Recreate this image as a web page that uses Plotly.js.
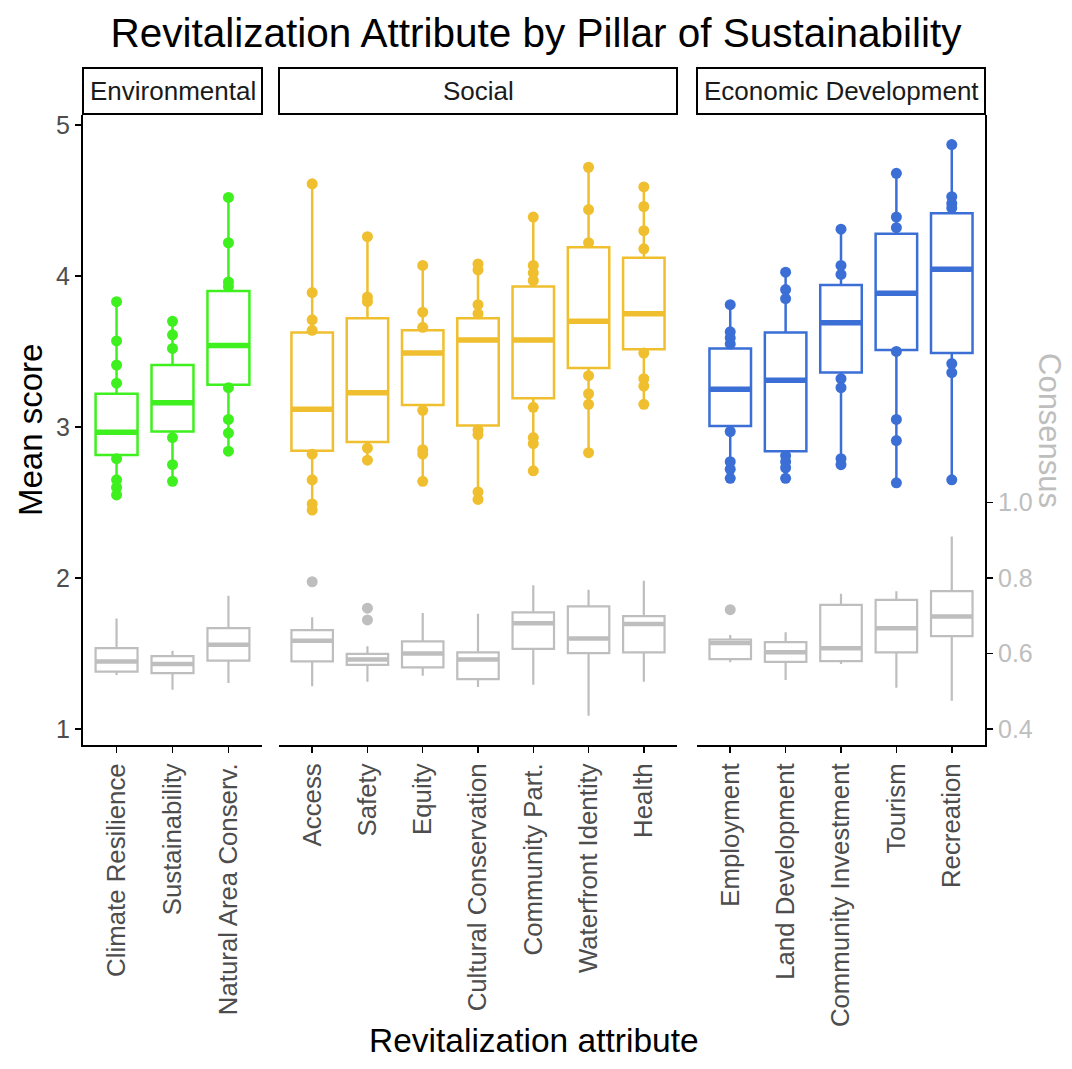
<!DOCTYPE html>
<html>
<head>
<meta charset="utf-8">
<script src="https://cdn.plot.ly/plotly-3.0.1.min.js"></script>
<style>html,body{margin:0;padding:0;background:#fff;}#chart{width:1072px;height:1069px;}</style>
</head>
<body>
<div id="chart"></div>
<script>
// ---------- DATA ----------
const envCats = ["Climate Resilience", "Sustainability", "Natural Area Conserv."];
const socCats = ["Access", "Safety", "Equity", "Cultural Conservation", "Community Part.", "Waterfront Identity", "Health"];
const ecoCats = ["Employment", "Land Development", "Community Investment", "Tourism", "Recreation"];

// Mean score box stats
const envLo  = [2.55, 2.64, 2.84];
const envQ1  = [2.815, 2.97, 3.28];
const envMed = [2.965, 3.16, 3.54];
const envQ3  = [3.22, 3.41, 3.90];
const envHi  = [3.83, 3.70, 4.52];

const socLo  = [2.45, 2.78, 2.64, 2.52, 2.71, 2.83, 3.15];
const socQ1  = [2.843, 2.90, 3.146, 3.01, 3.19, 3.39, 3.515];
const socMed = [3.117, 3.227, 3.49, 3.576, 3.576, 3.70, 3.75];
const socQ3  = [3.625, 3.72, 3.64, 3.72, 3.93, 4.19, 4.12];
const socHi  = [4.61, 4.26, 4.07, 4.08, 4.39, 4.72, 4.59];

const ecoLo  = [2.66, 2.66, 2.75, 2.63, 2.65];
const ecoQ1  = [3.007, 2.84, 3.36, 3.51, 3.49];
const ecoMed = [3.25, 3.31, 3.69, 3.885, 4.044];
const ecoQ3  = [3.52, 3.625, 3.94, 4.28, 4.415];
const ecoHi  = [3.81, 4.025, 4.31, 4.68, 4.87];

// Visible individual mean scores (points outside the boxes)
const envPtCat = ["Climate Resilience","Climate Resilience","Climate Resilience","Climate Resilience","Climate Resilience","Climate Resilience","Climate Resilience","Climate Resilience",
  "Sustainability","Sustainability","Sustainability","Sustainability","Sustainability","Sustainability",
  "Natural Area Conserv.","Natural Area Conserv.","Natural Area Conserv.","Natural Area Conserv.","Natural Area Conserv.","Natural Area Conserv.","Natural Area Conserv.","Natural Area Conserv."];
const envPtVal = [3.83, 3.57, 3.41, 3.29, 2.79, 2.65, 2.60, 2.55,
  3.70, 3.61, 3.52, 2.93, 2.75, 2.64,
  4.52, 4.22, 3.96, 3.93, 3.26, 3.05, 2.96, 2.84];

const socPtCat = ["Access","Access","Access","Access","Access","Access","Access","Access",
  "Safety","Safety","Safety","Safety","Safety",
  "Equity","Equity","Equity","Equity","Equity","Equity","Equity",
  "Cultural Conservation","Cultural Conservation","Cultural Conservation","Cultural Conservation","Cultural Conservation","Cultural Conservation","Cultural Conservation","Cultural Conservation",
  "Community Part.","Community Part.","Community Part.","Community Part.","Community Part.","Community Part.","Community Part.","Community Part.",
  "Waterfront Identity","Waterfront Identity","Waterfront Identity","Waterfront Identity","Waterfront Identity","Waterfront Identity","Waterfront Identity",
  "Health","Health","Health","Health","Health","Health","Health","Health"];
const socPtVal = [4.61, 3.89, 3.71, 3.64, 2.82, 2.65, 2.49, 2.45,
  4.26, 3.86, 3.83, 2.86, 2.78,
  4.07, 3.76, 3.66, 3.11, 2.85, 2.82, 2.64,
  4.08, 4.04, 3.81, 3.75, 2.98, 2.95, 2.57, 2.52,
  4.39, 4.07, 4.02, 3.97, 3.13, 2.93, 2.89, 2.71,
  4.72, 4.44, 4.22, 3.34, 3.22, 3.15, 2.83,
  4.59, 4.46, 4.30, 4.18, 3.49, 3.32, 3.27, 3.15];

const ecoPtCat = ["Employment","Employment","Employment","Employment","Employment","Employment","Employment","Employment",
  "Land Development","Land Development","Land Development","Land Development","Land Development","Land Development","Land Development",
  "Community Investment","Community Investment","Community Investment","Community Investment","Community Investment","Community Investment","Community Investment",
  "Tourism","Tourism","Tourism","Tourism","Tourism","Tourism","Tourism",
  "Recreation","Recreation","Recreation","Recreation","Recreation","Recreation","Recreation"];
const ecoPtVal = [3.81, 3.63, 3.59, 3.55, 2.97, 2.77, 2.72, 2.66,
  4.025, 3.91, 3.85, 2.81, 2.77, 2.73, 2.66,
  4.31, 4.07, 4.01, 3.32, 3.26, 2.79, 2.75,
  4.68, 4.39, 4.32, 3.50, 3.05, 2.91, 2.63,
  4.87, 4.525, 4.48, 4.45, 3.42, 3.36, 2.65];

// Consensus box stats
const envCLo  = [0.543, 0.504, 0.522];
const envCQ1  = [0.552, 0.548, 0.581];
const envCMed = [0.579, 0.572, 0.623];
const envCQ3  = [0.614, 0.593, 0.667];
const envCHi  = [0.693, 0.607, 0.753];

const socCLo  = [0.513, 0.525, 0.541, 0.511, 0.517, 0.435, 0.525];
const socCQ1  = [0.579, 0.570, 0.563, 0.532, 0.612, 0.601, 0.603];
const socCMed = [0.634, 0.584, 0.600, 0.584, 0.680, 0.640, 0.678];
const socCQ3  = [0.662, 0.599, 0.632, 0.603, 0.709, 0.725, 0.699];
const socCHi  = [0.696, 0.619, 0.707, 0.705, 0.781, 0.769, 0.793];

const ecoCLo  = [0.577, 0.530, 0.572, 0.509, 0.475];
const ecoCQ1  = [0.585, 0.578, 0.580, 0.603, 0.646];
const ecoCMed = [0.628, 0.603, 0.614, 0.667, 0.698];
const ecoCQ3  = [0.637, 0.630, 0.729, 0.742, 0.765];
const ecoCHi  = [0.649, 0.656, 0.758, 0.765, 0.910];

const socCOutCat = ["Access", "Safety", "Safety"];
const socCOutVal = [0.790, 0.720, 0.689];
const ecoCOutCat = ["Employment"];
const ecoCOutVal = [0.716];

const panelNames = ["Environmental", "Social", "Economic Development"];
const consensusTicks = [0.4, 0.6, 0.8, 1.0];

// ---------- STYLE ----------
const FONT = "Liberation Sans, Arial, sans-serif";
const GREEN = "#3ff01f", GOLD = "#efbf2f", BLUE = "#3b6fd6", GRAY = "#bebebe";

const traces = [];
function addBoxes(cats, lo, q1, med, q3, hi, color, xa, ya, lw, mw) {
  traces.push({type: "box", x: cats, q1: q1, median: med, q3: q3, lowerfence: lo, upperfence: hi,
    xaxis: xa, yaxis: ya, width: 0.75, boxpoints: false, fillcolor: "#ffffff",
    line: {color: color, width: lw}, whiskerwidth: 0, hoverinfo: "skip", showlegend: false});
  // thicker median bar (ggplot-style fatten)
  traces.push({type: "box", x: cats, q1: med, median: med, q3: med, lowerfence: med, upperfence: med,
    xaxis: xa, yaxis: ya, width: 0.75, boxpoints: false, fillcolor: "rgba(0,0,0,0)",
    line: {color: color, width: mw}, whiskerwidth: 0, hoverinfo: "skip", showlegend: false});
}
function addPoints(cats, vals, color, xa, ya) {
  traces.push({type: "scatter", mode: "markers", x: cats, y: vals, xaxis: xa, yaxis: ya,
    marker: {color: color, size: 11, line: {width: 0}}, hoverinfo: "skip", showlegend: false, cliponaxis: false});
}

// Consensus (secondary axis)
addBoxes(envCats, envCLo, envCQ1, envCMed, envCQ3, envCHi, GRAY, "x", "y2", 2.2, 4.5);
addBoxes(socCats, socCLo, socCQ1, socCMed, socCQ3, socCHi, GRAY, "x2", "y2", 2.2, 4.5);
addBoxes(ecoCats, ecoCLo, ecoCQ1, ecoCMed, ecoCQ3, ecoCHi, GRAY, "x3", "y2", 2.2, 4.5);
addPoints(socCOutCat, socCOutVal, GRAY, "x2", "y2");
addPoints(ecoCOutCat, ecoCOutVal, GRAY, "x3", "y2");

// Mean scores
addBoxes(envCats, envLo, envQ1, envMed, envQ3, envHi, GREEN, "x", "y", 2.5, 5.5);
addBoxes(socCats, socLo, socQ1, socMed, socQ3, socHi, GOLD, "x2", "y", 2.5, 5.5);
addBoxes(ecoCats, ecoLo, ecoQ1, ecoMed, ecoQ3, ecoHi, BLUE, "x3", "y", 2.5, 5.5);
addPoints(envPtCat, envPtVal, GREEN, "x", "y");
addPoints(socPtCat, socPtVal, GOLD, "x2", "y");
addPoints(ecoPtCat, ecoPtVal, BLUE, "x3", "y");

const W = 1072, H = 1069;
const mL = 83, mR = 87, mT = 115, mB = 324;
const plotW = W - mL - mR;  // 902
const px2x = p => (p - mL) / plotW;
const plotH = H - mT - mB;  // 630
const py2y = p => (H - mB - p) / plotH;

function xAxis(cats, dom) {
  return {domain: dom, type: "category", categoryarray: cats, categoryorder: "array",
    range: [-0.6, cats.length - 0.4], anchor: "y", showline: true, linecolor: "#000", linewidth: 2,
    ticks: "outside", ticklen: 6, tickwidth: 1.5, tickcolor: "#000", tickangle: -90,
    tickfont: {family: FONT, size: 25.8, color: "#4d4d4d"}, showgrid: false, zeroline: false, fixedrange: true};
}

const domEnv = [px2x(83), px2x(262)];
const domSoc = [px2x(279), px2x(677)];
const domEco = [px2x(697), px2x(985)];

const shapes = [], annotations = [];
const doms = [domEnv, domSoc, domEco];
panelNames.forEach((name, i) => {
  shapes.push({type: "rect", xref: "paper", yref: "paper", x0: doms[i][0], x1: doms[i][1],
    y0: py2y(114), y1: py2y(68), line: {color: "#000", width: 2}, fillcolor: "#fff"});
  annotations.push({xref: "paper", yref: "paper", x: (doms[i][0] + doms[i][1]) / 2, y: py2y(91),
    text: name, showarrow: false, xanchor: "center", yanchor: "middle",
    font: {family: FONT, size: 26, color: "#1a1a1a"}});
});
annotations.push({xref: "paper", yref: "paper", x: px2x(30), y: py2y(430), text: "Mean score",
  textangle: -90, showarrow: false, xanchor: "center", yanchor: "middle", font: {family: FONT, size: 33, color: "#000"}});
annotations.push({xref: "paper", yref: "paper", x: px2x(1050), y: py2y(430), text: "Consensus",
  textangle: 90, showarrow: false, xanchor: "center", yanchor: "middle", font: {family: FONT, size: 31, color: GRAY}});
annotations.push({xref: "paper", yref: "paper", x: px2x(534), y: py2y(1040), text: "Revitalization attribute",
  showarrow: false, xanchor: "center", yanchor: "middle", font: {family: FONT, size: 33.5, color: "#000"}});

// y ranges (mean score) and matching consensus range
const yMin = 0.894, yMax = 5.066;

const layout = {
  width: W, height: H,
  margin: {l: mL, r: mR, t: mT, b: mB, pad: 0},
  paper_bgcolor: "#fff", plot_bgcolor: "rgba(0,0,0,0)",
  font: {family: FONT},
  title: {text: "Revitalization Attribute by Pillar of Sustainability", x: 0.5, xanchor: "center",
    xref: "container", yref: "container", y: 1 - 33 / H, yanchor: "middle",
    font: {family: FONT, size: 40.5, color: "#000"}},
  boxmode: "overlay",
  showlegend: false,
  xaxis: xAxis(envCats, domEnv),
  xaxis2: xAxis(socCats, domSoc),
  xaxis3: xAxis(ecoCats, domEco),
  yaxis: {domain: [0, 1], range: [yMin, yMax], anchor: "x", showline: true, linecolor: "#000", linewidth: 2,
    ticks: "outside", ticklen: 6, tickwidth: 1.5, tickcolor: "#000", tickvals: [1, 2, 3, 4, 5],
    tickfont: {family: FONT, size: 25, color: "#4d4d4d"}, showgrid: false, zeroline: false, fixedrange: true},
  yaxis2: {overlaying: "y", side: "right", anchor: "x3",
    range: [0.4 + (yMin - 1) / 2.5, 0.4 + (yMax - 1) / 2.5],
    showline: true, linecolor: "#000", linewidth: 2,
    ticks: "outside", ticklen: 6, tickwidth: 1.5, tickcolor: "#000",
    tickvals: consensusTicks, tickformat: ".1f",
    tickfont: {family: FONT, size: 25, color: GRAY}, showgrid: false, zeroline: false, fixedrange: true},
  shapes: shapes,
  annotations: annotations
};

Plotly.newPlot("chart", traces, layout, {displayModeBar: false, staticPlot: true});
</script>
</body>
</html>
